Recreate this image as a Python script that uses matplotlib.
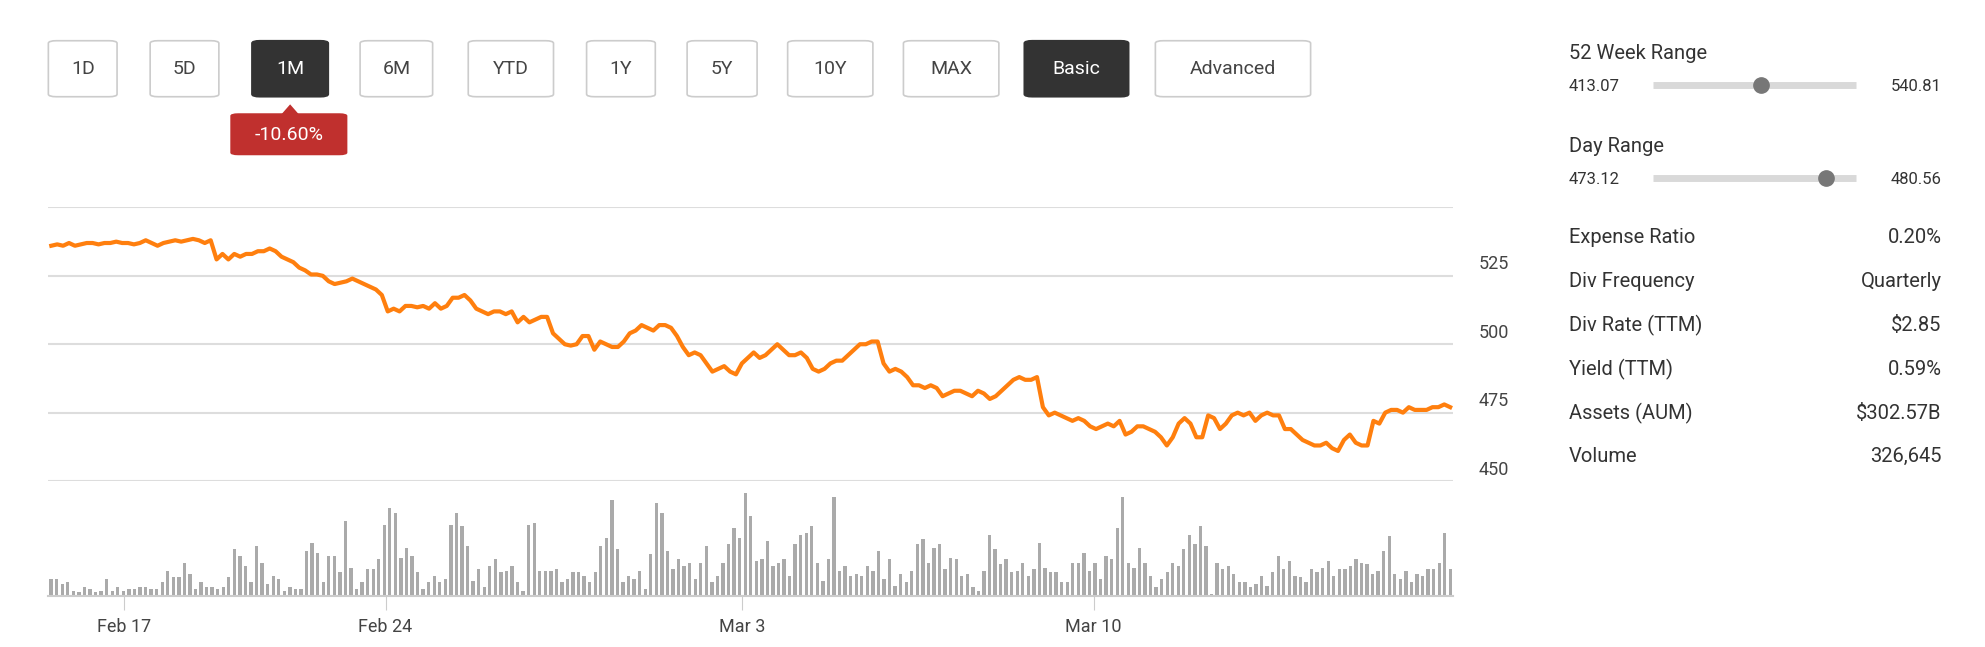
import matplotlib
matplotlib.use("Agg")
import matplotlib.pyplot as plt
from matplotlib.patches import FancyBboxPatch, Polygon, Circle
import numpy as np

plt.rcParams['font.family'] = ['Roboto', 'DejaVu Sans']

price = [536,536.5,536,537,536,536.5,537,537,536.5,537,537,537.5,537,537,536.5,537,538,537,536,537,537.5,538,537.5,538,538.5,538,537,538,531,533,531,533,532,533,533,534,534,535,534,532,531,530,528,527,525.5,525.5,525,523,522,522.5,523,524,523,522,521,520,518,512,513,512,514,514,513.5,514,513,515,513,514,517,517,518,516,513,512,511,512,512,511,512,508,510,508,509,510,510,504,502,500,499.5,500,503,503,498,501,500,499,499,501,504,505,507,506,505,507,507,506,503,499,496,497,496,493,490,491,492,490,489,493,495,497,495,496,498,500,498,496,496,497,495,491,490,491,493,494,494,496,498,500,500,501,501,493,490,491,490,488,485,485,484,485,484,481,482,483,483,482,481,483,482,480,481,483,485,487,488,487,487,488,477,474,475,474,473,472,473,472,470,469,470,471,470,472,467,468,470,470,469,468,466,463,466,471,473,471,466,466,474,473,469,471,474,475,474,475,472,474,475,474,474,469,469,467,465,464,463,463,464,462,461,465,467,464,463,463,472,471,475,476,476,475,477,476,476,476,477,477,478,477]

volume = [10,10,7,8,3,2,5,4,2,3,10,3,5,3,4,4,5,5,4,4,8,15,11,11,20,13,4,8,5,5,4,5,11,28,24,18,8,30,20,7,12,10,3,5,4,4,27,32,26,8,24,24,14,45,17,4,8,16,16,22,43,53,50,23,29,24,14,4,8,12,8,10,43,50,42,30,9,16,5,18,22,14,15,18,8,3,43,44,15,15,15,16,8,10,14,14,12,8,14,30,35,58,28,8,12,10,15,4,25,56,50,27,16,22,18,20,10,20,30,8,12,20,31,41,35,62,48,21,22,33,18,20,22,12,31,37,38,42,20,9,22,60,15,18,12,13,12,18,15,27,10,22,6,13,8,15,31,34,20,29,31,16,23,22,12,13,5,3,15,37,28,19,22,14,15,20,12,16,32,17,14,14,8,8,20,20,26,15,20,10,24,22,41,60,20,17,29,20,12,5,10,14,20,18,28,37,31,42,30,1,20,16,18,13,8,8,5,7,12,6,14,24,16,21,12,11,8,16,14,17,21,12,16,16,18,22,20,19,13,15,27,36,13,10,15,8,13,12,16,16,20,38,16]

ticks = ["Feb 17", "Feb 24", "Mar 3", "Mar 10"]
tick_frac = [0.052, 0.239, 0.494, 0.745]
yticks = [450, 475, 500, 525]

buttons = ["1D", "5D", "1M", "6M", "YTD", "1Y", "5Y", "10Y", "MAX", "Basic", "Advanced"]
btn_x = [(38,92),(118,172),(198,258),(283,340),(368,435),(461,515),(540,595),(619,686),(710,785),(805,887),(908,1030)]
btn_dark = ["1M", "Basic"]
change = "-10.60%"

ranges = [("52 Week Range", "413.07", "540.81", 0.53), ("Day Range", "473.12", "480.56", 0.85)]
stats = [("Expense Ratio", "0.20%"), ("Div Frequency", "Quarterly"), ("Div Rate (TTM)", "$2.85"),
         ("Yield (TTM)", "0.59%"), ("Assets (AUM)", "$302.57B"), ("Volume", "326,645")]

W, H = 1560, 508.4
fig = plt.figure(figsize=(19.85, 6.47), dpi=100)
fig.patch.set_facecolor('white')
def fx(x): return x / W
def fy(y): return 1 - y / H

def rect(x0, y0, x1, y1):
    return [fx(x0), fy(y1), fx(x1) - fx(x0), fy(y0) - fy(y1)]

ax = fig.add_axes(rect(38, 163, 1142, 378))
x = np.arange(len(price))
ax.plot(x, price, color='#ff7f0e', lw=3, solid_joinstyle='round')
ax.set_ylim(450, 550)
ax.set_xlim(-0.5, len(price) - 0.5)
for v in [450, 475, 500, 525, 550]:
    ax.axhline(v, color='#dddddd', lw=1.5, zorder=0)
for s in ax.spines.values():
    s.set_visible(False)
ax.set_xticks([]); ax.set_yticks([])
for v in yticks:
    fig.text(fx(1162), fy(163 + (550 - v) / 100 * 215 - 9), str(v), fontsize=13, color='#444444', va='center')

axv = fig.add_axes(rect(38, 385, 1142, 468))
xv = np.arange(len(volume))
axv.bar(xv, volume, width=0.6, color='#aaaaaa')
axv.set_xlim(-0.5, len(volume) - 0.5)
axv.set_ylim(0, 64)
for s in ['top', 'right', 'left']:
    axv.spines[s].set_visible(False)
axv.spines['bottom'].set_color('#cccccc'); axv.spines['bottom'].set_linewidth(1.5)
axv.set_yticks([])
axv.set_xticks([f * (len(volume) - 1) for f in tick_frac])
axv.set_xticklabels(ticks, fontsize=13, color='#444444')
axv.tick_params(axis='x', length=10, color='#cccccc', pad=6)

# buttons
for lab, (x0, x1) in zip(buttons, btn_x):
    dark = lab in btn_dark
    b = FancyBboxPatch((fx(x0), fy(76)), fx(x1) - fx(x0), fy(32) - fy(76),
                       boxstyle="round,pad=0,rounding_size=0.004", transform=fig.transFigure,
                       facecolor='#333333' if dark else 'white', edgecolor='#333333' if dark else '#cccccc', lw=1.2)
    fig.patches.append(b)
    fig.text(fx((x0 + x1) / 2), fy(54), lab, ha='center', va='center', fontsize=14,
             color='white' if dark else '#444444')
badge = FancyBboxPatch((fx(181), fy(122)), fx(273) - fx(181), fy(89) - fy(122),
                       boxstyle="round,pad=0,rounding_size=0.004", transform=fig.transFigure,
                       facecolor='#c0302e', edgecolor='none')
fig.patches.append(badge)
fig.patches.append(Polygon([[fx(221), fy(90)], [fx(235), fy(90)], [fx(228), fy(82)]], closed=True,
                           transform=fig.transFigure, facecolor='#c0302e', edgecolor='none'))
fig.text(fx(227), fy(106), change, ha='center', va='center', fontsize=14, color='white')

# right panel
for i, (lab, lo, hi, pos) in enumerate(ranges):
    y0 = 42 + i * 73
    fig.text(fx(1233), fy(y0), lab, fontsize=14.5, color='#333333', va='center')
    fig.text(fx(1233), fy(y0 + 26), lo, fontsize=12, color='#333333', va='center')
    fig.text(fx(1526), fy(y0 + 26), hi, fontsize=12, color='#333333', va='center', ha='right')
    fig.add_artist(plt.Line2D([fx(1299), fx(1459)], [fy(y0 + 25)] * 2, color='#d9d9d9', lw=5,
                              transform=fig.transFigure, solid_capstyle='butt'))
    cx = 1299 + pos * 160
    fig.add_artist(plt.Line2D([fx(cx)], [fy(y0 + 25)], marker='o', ms=11, color='#777777',
                              transform=fig.transFigure))
for i, (lab, val) in enumerate(stats):
    y = 187 + i * 34.4
    fig.text(fx(1233), fy(y), lab, fontsize=14.5, color='#333333', va='center')
    fig.text(fx(1526), fy(y), val, fontsize=14.5, color='#333333', va='center', ha='right')

fig.savefig('out.png', dpi=100, facecolor='white')
